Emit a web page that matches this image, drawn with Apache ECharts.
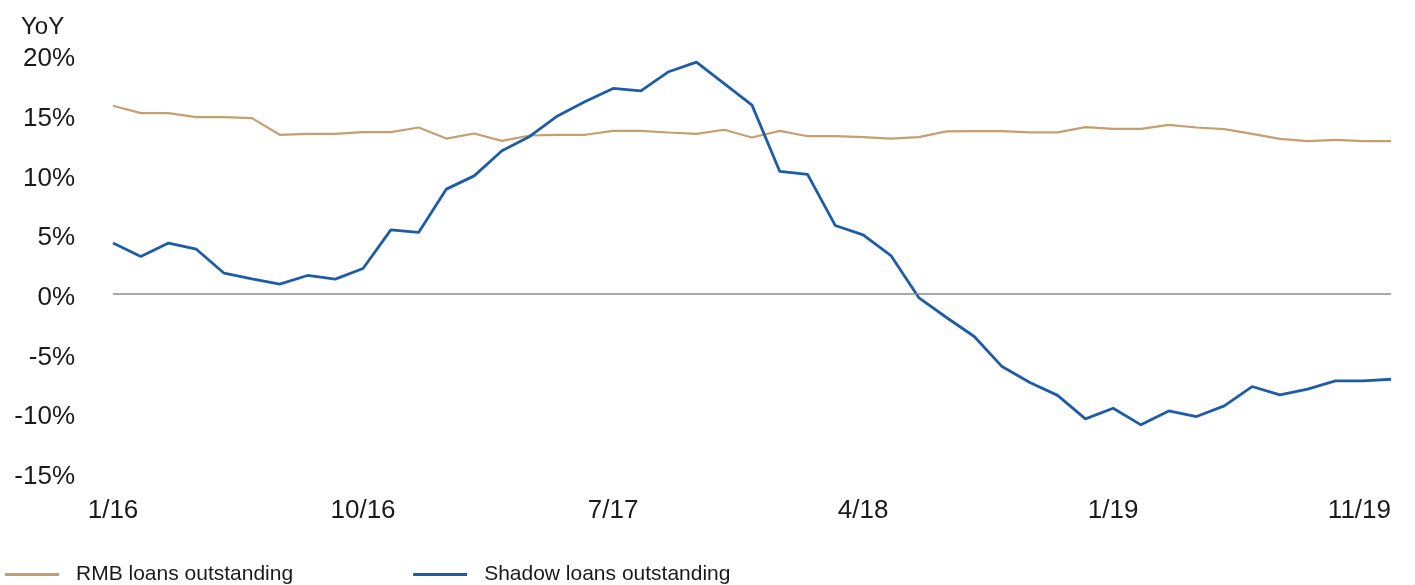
<!DOCTYPE html>
<html>
<head>
<meta charset="utf-8">
<script src="https://cdn.jsdelivr.net/npm/echarts@6/dist/echarts.min.js"></script>
<style>
html,body{margin:0;padding:0;background:#fff;}
#chart{width:1415px;height:585px;}
</style>
</head>
<body>
<div id="chart"></div>
<script>
const categories = [
  '1/16','2/16','3/16','4/16','5/16','6/16','7/16','8/16','9/16','10/16','11/16','12/16',
  '1/17','2/17','3/17','4/17','5/17','6/17','7/17','8/17','9/17','10/17','11/17','12/17',
  '1/18','2/18','3/18','4/18','5/18','6/18','7/18','8/18','9/18','10/18','11/18','12/18',
  '1/19','2/19','3/19','4/19','5/19','6/19','7/19','8/19','9/19','10/19','11/19'
];
const tickLabels = ['1/16','10/16','7/17','4/18','1/19','11/19'];
const rmbLoans = [
  15.75, 15.13, 15.13, 14.8, 14.8, 14.71, 13.32, 13.4, 13.4, 13.54, 13.54, 13.93,
  13.0, 13.43, 12.81, 13.26, 13.32, 13.32, 13.65, 13.65, 13.51, 13.4, 13.74, 13.09,
  13.65, 13.2, 13.2, 13.12, 13.0, 13.12, 13.6, 13.62, 13.62, 13.52, 13.52, 13.96,
  13.82, 13.82, 14.15, 13.93, 13.79, 13.4, 12.98, 12.79, 12.9, 12.79, 12.79
];
const shadowLoans = [
  4.25, 3.13, 4.25, 3.74, 1.73, 1.26, 0.81, 1.54, 1.23, 2.12, 5.36, 5.14,
  8.77, 9.88, 11.98, 13.18, 14.9, 16.1, 17.2, 17.0, 18.6, 19.4, 17.6, 15.8,
  10.25, 10.0, 5.72, 4.94, 3.21, -0.31, -1.98, -3.57, -6.09, -7.42, -8.5, -10.47,
  -9.58, -10.97, -9.8, -10.27, -9.38, -7.76, -8.46, -7.98, -7.29, -7.29, -7.15
];
const yTicks = { min: -15, max: 20, interval: 5 };

const FONT = '"Liberation Sans", Arial, sans-serif';
const chart = echarts.init(document.getElementById('chart'), null, { renderer: 'canvas' });
chart.setOption({
  animation: false,
  backgroundColor: '#ffffff',
  title: {
    text: 'YoY', left: 16, top: 10,
    textStyle: { fontFamily: FONT, fontSize: 24, fontWeight: 'normal', color: '#1a1a1a' }
  },
  legend: {
    left: 0, top: 559, itemGap: 120, itemWidth: 54, itemHeight: 3, icon: 'rect',
    textStyle: { fontFamily: FONT, fontSize: 21, color: '#1a1a1a', padding: [0, 0, 0, 12] },
    data: ['RMB loans outstanding', 'Shadow loans outstanding']
  },
  grid: { left: 113, right: 24, top: 55, bottom: 112, containLabel: false },
  xAxis: {
    type: 'category', data: categories, boundaryGap: false,
    axisLine: { show: false }, axisTick: { show: false }, splitLine: { show: false },
    axisLabel: {
      interval: (i, v) => tickLabels.indexOf(v) >= 0,
      margin: 25, fontFamily: FONT, fontSize: 26, color: '#1a1a1a',
      alignMaxLabel: 'right'
    }
  },
  yAxis: {
    type: 'value', min: yTicks.min, max: yTicks.max, interval: yTicks.interval,
    axisLine: { show: false }, axisTick: { show: false }, splitLine: { show: false },
    axisLabel: {
      formatter: v => '{v|' + v + '%}', margin: 38,
      rich: { v: { fontFamily: FONT, fontSize: 26, color: '#1a1a1a', padding: [8, 0, 0, 0] } }
    }
  },
  series: [
    {
      name: 'RMB loans outstanding', type: 'line', data: rmbLoans, showSymbol: false, symbol: 'none',
      lineStyle: { color: '#C4A070', width: 2.2 }, itemStyle: { color: '#C4A070' }, z: 3,
      markLine: {
        silent: true, symbol: 'none', label: { show: false },
        lineStyle: { color: '#8a8a8a', width: 1.5, type: 'solid' },
        data: [{ yAxis: 0 }]
      }
    },
    {
      name: 'Shadow loans outstanding', type: 'line', data: shadowLoans, showSymbol: false, symbol: 'none',
      lineStyle: { color: '#1F5CA8', width: 2.8 }, itemStyle: { color: '#1F5CA8' }, z: 4
    }
  ]
});
</script>
</body>
</html>
